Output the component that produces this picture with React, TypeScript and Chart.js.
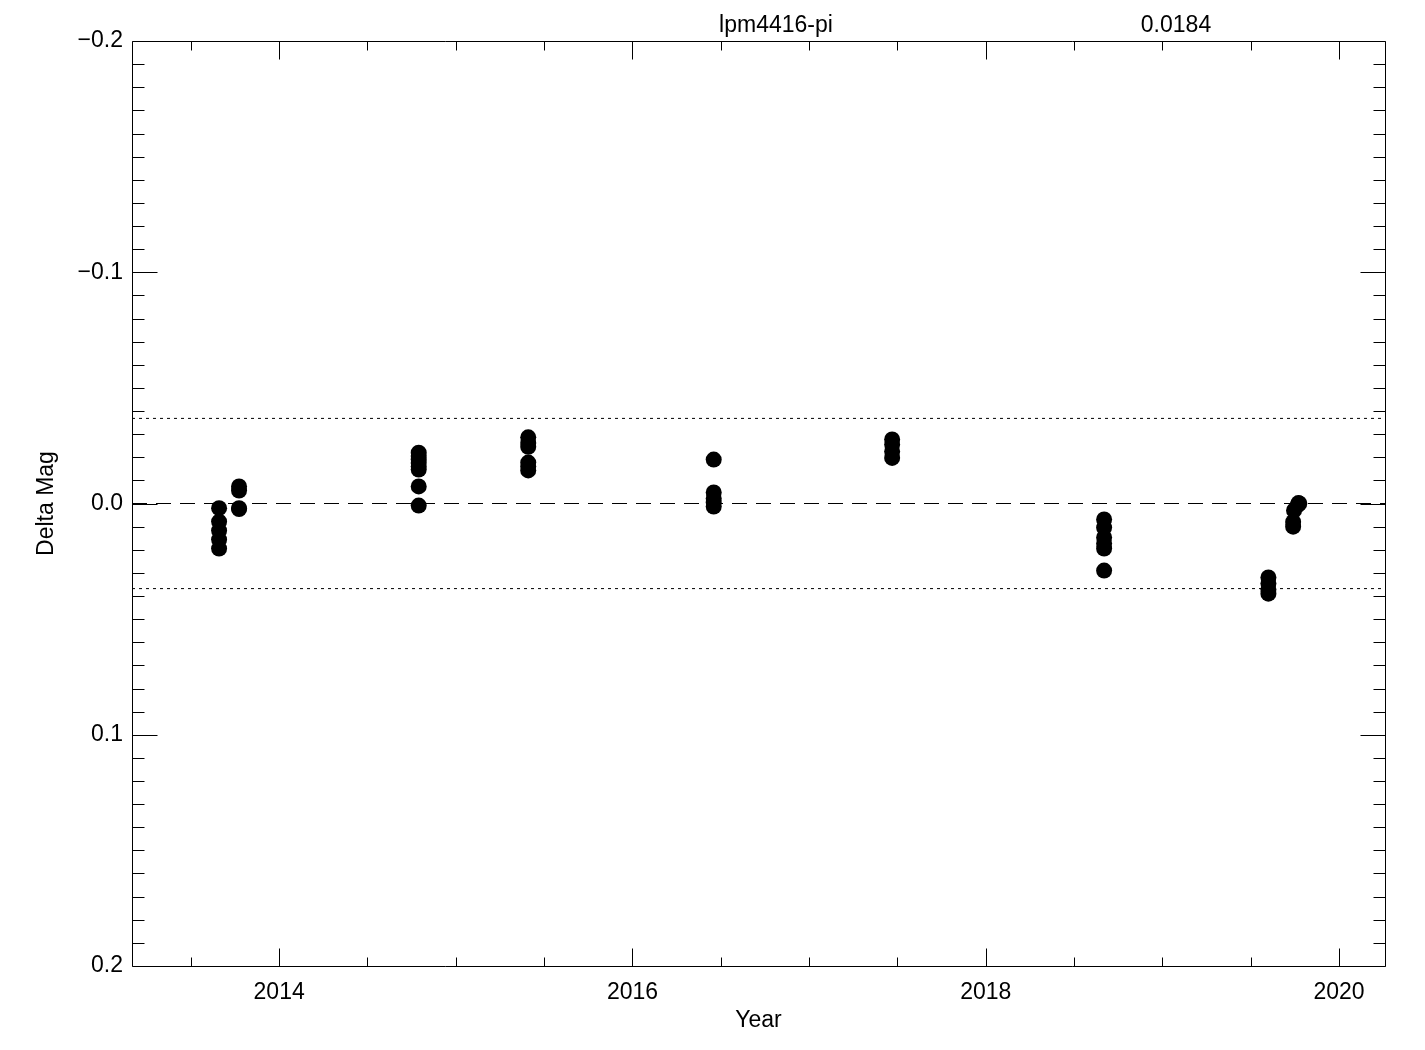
import React, { useEffect, useRef } from "react";
import { Chart, registerables } from "chart.js";

Chart.register(...registerables);

// ---- data ----
const obsYear = [
  2013.66, 2013.66, 2013.66, 2013.66, 2013.66,
  2013.773, 2013.773, 2013.773, 2013.773,
  2014.79, 2014.79, 2014.79, 2014.79, 2014.79, 2014.79, 2014.79, 2014.79,
  2015.41, 2015.41, 2015.41, 2015.41, 2015.41, 2015.41,
  2016.46, 2016.46, 2016.46, 2016.46, 2016.46,
  2017.47, 2017.47, 2017.47, 2017.47,
  2018.67, 2018.67, 2018.67, 2018.67, 2018.67, 2018.67,
  2019.6, 2019.6, 2019.6, 2019.6,
  2019.74, 2019.74, 2019.745, 2019.765, 2019.77, 2019.775,
];
const obsMag = [
  0.002, 0.0078, 0.0117, 0.0156, 0.0195,
  -0.0074, -0.0056, 0.002, 0.0024,
  -0.022, -0.0205, -0.019, -0.0175, -0.016, -0.0147, -0.0074, 0.0009,
  -0.0286, -0.0262, -0.0245, -0.0177, -0.016, -0.0143,
  -0.019, -0.0048, -0.0022, -0.0004, 0.0013,
  -0.0277, -0.0255, -0.0225, -0.0197,
  0.0069, 0.0104, 0.0147, 0.0173, 0.0195, 0.029,
  0.032, 0.0346, 0.0372, 0.039,
  0.01, 0.008, 0.003, 0.0008, -0.0002, 0.0,
];
const xRange = [2013.167, 2020.26];
const yRange = [-0.2, 0.2];
const xMajorTicks = [2014, 2016, 2018, 2020];
const yMajorTicks = [-0.2, -0.1, 0.0, 0.1, 0.2];
const titleName = "lpm4416-pi";
const titleRms = "0.0184";
const meanLevel = 0;
const sigmaLevels = [-0.0368, 0.0368];

const FONT = "'Liberation Sans', Arial, sans-serif";
const FSIZE = 23;

const framePlugin = {
  id: "idlFrame",
  afterDatasetsDraw(chart: any) {
    const { ctx, chartArea: a, scales } = chart;
    const x = scales.x;
    const y = scales.y;
    const L = Math.round(a.left) + 0.5;
    const R = Math.round(a.right) + 0.5;
    const T = Math.round(a.top) + 0.5;
    const B = Math.round(a.bottom) + 0.5;
    ctx.save();
    ctx.strokeStyle = "#000";
    ctx.lineWidth = 1;
    ctx.beginPath();
    ctx.rect(L, T, R - L, B - T);
    // x ticks every 0.5 yr, major every 2 yr
    const k0 = Math.ceil(xRange[0] * 2);
    const k1 = Math.floor(xRange[1] * 2);
    for (let k = k0; k <= k1; k++) {
      const px = Math.round(x.getPixelForValue(k / 2)) + 0.5;
      const len = k % 4 === 0 ? 18 : 9;
      ctx.moveTo(px, B);
      ctx.lineTo(px, B - len);
      ctx.moveTo(px, T);
      ctx.lineTo(px, T + len);
    }
    // y ticks every 0.01, major every 0.1
    for (let k = -20; k <= 20; k++) {
      const py = Math.round(y.getPixelForValue(k / 100)) + 0.5;
      const len = k % 10 === 0 ? 25 : 12;
      ctx.moveTo(L, py);
      ctx.lineTo(L + len, py);
      ctx.moveTo(R, py);
      ctx.lineTo(R - len, py);
    }
    ctx.stroke();
    // header texts
    ctx.fillStyle = "#000";
    ctx.font = `${FSIZE}px ${FONT}`;
    ctx.textAlign = "center";
    ctx.textBaseline = "middle";
    ctx.fillText(titleName, 776, 26);
    ctx.fillText(titleRms, 1176, 26);
    ctx.restore();
  },
};

export default function App() {
  const ref = useRef<HTMLCanvasElement | null>(null);

  useEffect(() => {
    document.body.style.margin = "0";
    const canvas = ref.current;
    if (!canvas) return;
    const points = obsYear.map((v, i) => ({ x: v, y: obsMag[i] }));
    const hline = (v: number) => [
      { x: xRange[0], y: v },
      { x: xRange[1], y: v },
    ];
    const chart = new Chart(canvas, {
      type: "scatter",
      data: {
        datasets: [
          {
            type: "scatter",
            data: points,
            pointRadius: 8,
            pointHoverRadius: 8,
            backgroundColor: "#000",
            borderWidth: 0,
          },
          {
            type: "line",
            data: hline(meanLevel),
            borderColor: "#000",
            borderWidth: 1,
            borderDash: [15, 9],
            pointRadius: 0,
            fill: false,
          },
          {
            type: "line",
            data: hline(sigmaLevels[0]),
            borderColor: "#000",
            borderWidth: 1,
            borderDash: [3, 4],
            pointRadius: 0,
            fill: false,
          },
          {
            type: "line",
            data: hline(sigmaLevels[1]),
            borderColor: "#000",
            borderWidth: 1,
            borderDash: [3, 4],
            pointRadius: 0,
            fill: false,
          },
        ] as any,
      },
      options: {
        animation: false,
        responsive: false,
        devicePixelRatio: 1,
        events: [],
        layout: { padding: { top: 41, right: 40, left: 0, bottom: 0 } },
        plugins: {
          legend: { display: false },
          tooltip: { enabled: false },
          title: { display: false },
        },
        scales: {
          x: {
            type: "linear",
            min: xRange[0],
            max: xRange[1],
            grid: { display: false, drawTicks: false },
            border: { display: false },
            afterBuildTicks: (s: any) => {
              s.ticks = xMajorTicks.map((v) => ({ value: v }));
            },
            afterFit: (s: any) => {
              s.height = 84;
            },
            ticks: {
              padding: 13,
              color: "#000",
              font: { family: FONT, size: FSIZE },
              maxRotation: 0,
              callback: (v: any) => String(v),
            },
            title: {
              display: true,
              text: "Year",
              color: "#000",
              font: { family: FONT, size: FSIZE },
              padding: { top: 0, bottom: 16 },
            },
          },
          y: {
            type: "linear",
            reverse: true,
            min: yRange[0],
            max: yRange[1],
            grid: { display: false, drawTicks: false },
            border: { display: false },
            afterBuildTicks: (s: any) => {
              s.ticks = yMajorTicks.map((v) => ({ value: v }));
            },
            afterFit: (s: any) => {
              s.width = 132;
            },
            ticks: {
              padding: 9,
              color: "#000",
              font: { family: FONT, size: FSIZE },
              callback: (v: any) => {
                const n = Number(v);
                const s = Math.abs(n).toFixed(1);
                return n < -1e-9 ? "\u2212" + s : s;
              },
            },
            title: {
              display: true,
              text: "Delta Mag",
              color: "#000",
              font: { family: FONT, size: FSIZE },
              padding: { top: 33, bottom: 0 },
            },
          },
        },
      },
      plugins: [framePlugin],
    } as any);
    return () => chart.destroy();
  }, []);

  return (
    <div style={{ position: "absolute", left: 0, top: 0, width: 1425, height: 1050, background: "#fff" }}>
      <canvas ref={ref} width={1425} height={1050} style={{ width: 1425, height: 1050, display: "block" }} />
    </div>
  );
}
